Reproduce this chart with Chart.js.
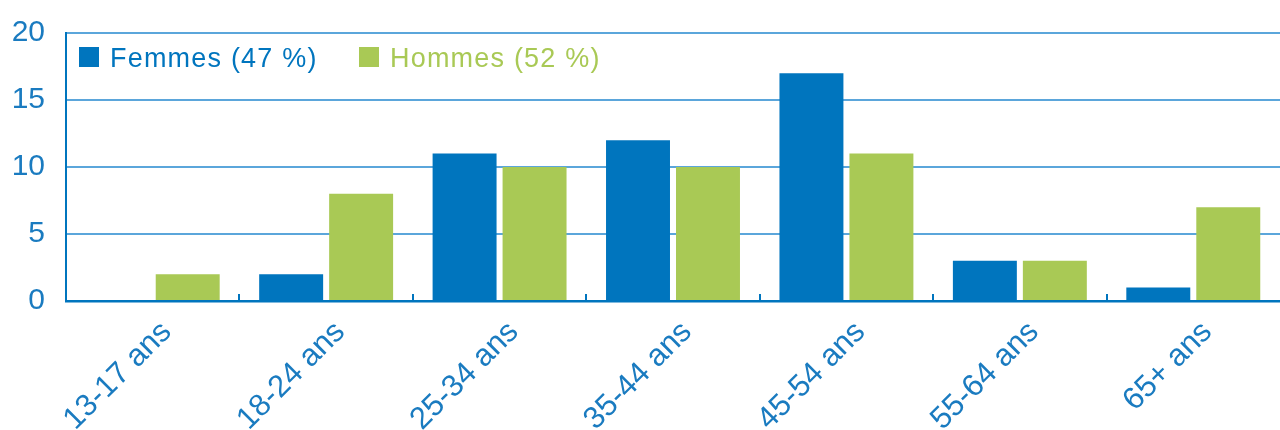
<!DOCTYPE html>
<html><head><meta charset="utf-8">
<script src="https://cdn.jsdelivr.net/npm/chart.js@4"></script>
<style>html,body{margin:0;padding:0;background:#fff}#wrap{width:1280px;height:430px}</style>
</head><body><div id="wrap"><canvas id="c" width="1280" height="430"></canvas></div>
<script>
const categories = ['13-17 ans','18-24 ans','25-34 ans','35-44 ans','45-54 ans','55-64 ans','65+ ans'];
const femmes = [0, 2, 11, 12, 17, 3, 1];
const hommes = [2, 8, 10, 10, 11, 3, 7];
const yTicks = [0, 5, 10, 15, 20];
const seriesLabels = ['Femmes (47 %)', 'Hommes (52 %)'];

const BLUE = '#0075BE';
const GREEN = '#A9C955';
const TEXT = '#1A7BC0';
const GRID = '#5BA6DB';
const FONT = '"Liberation Sans", Arial, Helvetica, sans-serif';

const legendPlugin = {
  id: 'insideLegend',
  afterDraw(chart) {
    const ctx = chart.ctx;
    ctx.save();
    ctx.font = '27px ' + FONT;
    ctx.letterSpacing = '1.2px';
    ctx.textBaseline = 'alphabetic';
    const starts = [79, 359];
    chart.data.datasets.forEach((ds, i) => {
      const x = starts[i];
      ctx.fillStyle = ds.backgroundColor;
      ctx.fillRect(x, 47, 20, 20);
      ctx.fillText(ds.label, x + 31, 67);
    });
    ctx.restore();
  }
};

const tickPlugin = {
  id: 'catTicks',
  afterDatasetsDraw(chart) {
    const xs = chart.scales.x;
    const ctx = chart.ctx;
    ctx.save();
    ctx.strokeStyle = BLUE;
    ctx.lineWidth = 2;
    for (let i = 1; i < categories.length; i++) {
      const x = Math.round((xs.getPixelForValue(i - 1) + xs.getPixelForValue(i)) / 2);
      ctx.beginPath();
      ctx.moveTo(x, xs.top - 7);
      ctx.lineTo(x, xs.top);
      ctx.stroke();
    }
    ctx.restore();
  }
};

new Chart(document.getElementById('c'), {
  type: 'bar',
  data: {
    labels: categories,
    datasets: [
      { label: seriesLabels[0], data: femmes, backgroundColor: BLUE, borderWidth: 0 },
      { label: seriesLabels[1], data: hommes, backgroundColor: GREEN, borderWidth: 0 }
    ]
  },
  options: {
    responsive: false,
    devicePixelRatio: 1,
    animation: false,
    categoryPercentage: 0.807,
    barPercentage: 0.914,
    layout: { padding: { top: 33, right: 0, left: 0, bottom: 0 } },
    plugins: { legend: { display: false }, tooltip: { enabled: false } },
    scales: {
      x: {
        grid: { display: false, drawTicks: false },
        border: { display: true, color: BLUE, width: 2.5 },
        ticks: {
          color: TEXT,
          font: { family: FONT, size: 31 },
          minRotation: 45, maxRotation: 45,
          autoSkip: false,
          padding: 13,
          labelOffset: 14
        },
        afterFit(s) { s.height = 129; s.paddingLeft = 0; s.paddingRight = 0; s.paddingTop = 0; s.paddingBottom = 0; }
      },
      y: {
        min: 0, max: 20,
        afterBuildTicks(s) { s.ticks = yTicks.map(v => ({ value: v })); },
        grid: {
          drawTicks: false,
          color: ctx => ctx.tick && ctx.tick.value === 0 ? 'rgba(0,0,0,0)' : GRID,
          lineWidth: 2
        },
        border: { display: true, color: BLUE, width: 2 },
        ticks: {
          color: TEXT,
          font: { family: FONT, size: 30 },
          padding: 21
        },
        afterFit(s) { s.width = 66; s.paddingTop = 0; s.paddingBottom = 0; s.paddingLeft = 0; s.paddingRight = 0; }
      }
    }
  },
  plugins: [tickPlugin, legendPlugin]
});
</script>
</body></html>
